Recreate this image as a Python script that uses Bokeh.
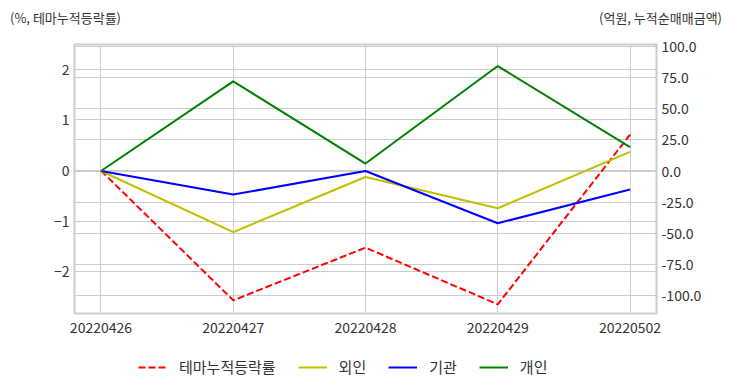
from bokeh.plotting import figure
from bokeh.layouts import column
from bokeh.models import (Range1d, LinearAxis, Grid, FixedTicker, NumeralTickFormatter,
                          Legend, LegendItem)
from bokeh.embed import file_html
from bokeh.resources import INLINE

dates = ["20220426", "20220427", "20220428", "20220429", "20220502"]
theme_pct = [0.0, -2.56, -1.52, -2.64, 0.71]      # 테마누적등락률 (%)
foreign = [0.0, -49.0, -4.8, -29.9, 15.4]          # 외인 (억원)
inst = [0.0, -18.9, 0.0, -41.9, -14.8]             # 기관 (억원)
indiv = [0.0, 72.0, 6.0, 84.3, 19.2]               # 개인 (억원)
left_ticks = [-2, -1, 0, 1, 2]
right_ticks = [-100, -75, -50, -25, 0, 25, 50, 75, 100]
left_title = "(%, 테마누적등락률)"
right_title = "(억원, 누적순매매금액)"
series_names = ["테마누적등락률", "외인", "기관", "개인"]
colors = ["#ff0000", "#bfbf00", "#0000ff", "#008000"]

FONT = "Noto Sans CJK KR"
TXT = "#333333"
W = 732
xs = list(range(len(dates)))


def bare(height):
    f = figure(frame_width=W, frame_height=height, output_backend="svg", toolbar_location=None,
               x_range=Range1d(0, W), y_range=Range1d(0, height),
               x_axis_type=None, y_axis_type=None,
               min_border=0, min_border_left=0, min_border_right=0,
               min_border_top=0, min_border_bottom=0)
    f.outline_line_color = None
    f.grid.visible = False
    return f


# ---- header with the two axis titles (glyph-less legends) ----
hdr = bare(34)
ghost = hdr.line(xs, theme_pct, line_alpha=0, visible=False)
for txt, loc in [(left_title, "left"), (right_title, "right")]:
    hdr.add_layout(Legend(items=[LegendItem(label=txt, renderers=[ghost])],
                          location=loc, margin=10, padding=0,
                          glyph_width=0, glyph_height=18, label_standoff=0,
                          border_line_color=None, background_fill_alpha=0,
                          inactive_fill_alpha=0,
                          label_text_font=FONT, label_text_font_size="13px",
                          label_text_color=TXT))

# ---- main chart ----
p = figure(frame_width=582, frame_height=269, output_backend="svg", toolbar_location=None,
           x_range=Range1d(-0.2, len(dates) - 0.8), y_range=Range1d(-2.82, 2.49),
           min_border_left=74, min_border_right=76, min_border_top=10, min_border_bottom=35)
p.extra_y_ranges = {"amt": Range1d(-114.4, 101.6)}
p.outline_line_color = "#cccccc"
p.outline_line_width = 2

xa = p.xaxis[0]
xa.ticker = FixedTicker(ticks=xs)
xa.major_label_overrides = {i: d for i, d in enumerate(dates)}
ya = p.yaxis[0]
ya.ticker = FixedTicker(ticks=left_ticks)
ra = LinearAxis(y_range_name="amt", ticker=FixedTicker(ticks=right_ticks),
                formatter=NumeralTickFormatter(format="0.0"))
p.add_layout(ra, "right")

for ax in [xa, ya, ra]:
    ax.axis_line_color = None
    ax.major_tick_line_color = None
    ax.minor_tick_line_color = None
    ax.major_tick_out = 0
    ax.major_tick_in = 0
    ax.minor_tick_out = 0
    ax.minor_tick_in = 0
    ax.major_label_text_font = FONT
    ax.major_label_text_font_size = "14px"
    ax.major_label_text_color = TXT
    ax.major_label_standoff = 5
xa.major_label_standoff = 8

p.xgrid.grid_line_color = "#cccccc"
p.ygrid.grid_line_color = "#cccccc"
g2 = Grid(dimension=1, axis=ra, ticker=FixedTicker(ticks=right_ticks),
          grid_line_color="#cccccc", y_range_name="amt")
p.add_layout(g2)

p.line(xs, theme_pct, line_color=colors[0], line_width=2, line_dash="7 3")
p.line(xs, foreign, line_color=colors[1], line_width=2, y_range_name="amt")
p.line(xs, inst, line_color=colors[2], line_width=2, y_range_name="amt")
p.line(xs, indiv, line_color=colors[3], line_width=2, y_range_name="amt")

# ---- footer with the legend (hidden proxy renderers carry the line styles) ----
ftr = bare(44)
proxies = []
for i, (c, ys) in enumerate(zip(colors, [theme_pct, foreign, inst, indiv])):
    proxies.append(ftr.line(xs, ys, line_color=c, line_width=2, visible=False,
                            line_dash="7 3" if i == 0 else "solid"))
legend = Legend(items=[LegendItem(label=n, renderers=[r]) for n, r in zip(series_names, proxies)],
                orientation="horizontal", location=(138, 15),
                border_line_color=None, background_fill_alpha=0,
                inactive_fill_alpha=0,
                label_text_font=FONT, label_text_font_size="15px", label_text_color=TXT,
                glyph_width=29, label_standoff=12, spacing=22, margin=0, padding=5)
ftr.add_layout(legend)

open("out.html", "w").write(file_html(column(hdr, p, ftr, spacing=0), INLINE))
